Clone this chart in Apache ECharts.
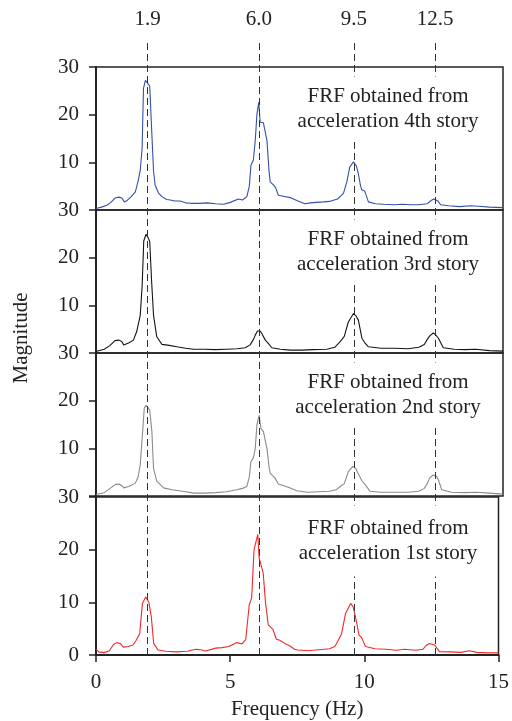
<!DOCTYPE html>
<html lang="en">
<head>
<meta charset="UTF-8">
<title>FRF</title>
<script src="https://cdn.jsdelivr.net/npm/echarts@6/dist/echarts.min.js"></script>
<style>
  html, body { margin: 0; padding: 0; background: #fff; }
  #chart { width: 512px; height: 721px; }
</style>
</head>
<body>
<div id="chart"></div>
<script>
// natural frequencies marked by dashed lines (Hz)
var peakFreqs = [1.9, 6.0, 9.5, 12.5];

// [frequency (Hz), magnitude]
var story4 = [[0,0.3],[0.2,0.6],[0.4,1.0],[0.55,1.6],[0.7,2.5],[0.85,2.7],[0.95,2.5],[1.05,1.7],[1.15,2.0],[1.3,2.8],[1.45,3.8],[1.55,6],[1.63,8.3],[1.7,13],[1.75,25.5],[1.82,27.2],[1.9,26.6],[1.98,26.0],[2.05,17],[2.12,8.3],[2.18,5.2],[2.3,3.6],[2.43,2.8],[2.6,2.2],[2.74,2.1],[2.9,1.9],[3.1,1.9],[3.3,1.5],[3.5,1.4],[3.8,1.4],[4.1,1.5],[4.4,1.3],[4.7,1.2],[4.95,1.6],[5.25,2.3],[5.4,2.1],[5.56,2.8],[5.65,5],[5.71,9.4],[5.8,10.5],[5.87,14.6],[5.93,20.1],[6.0,22.6],[6.05,18.4],[6.17,18.3],[6.3,14.6],[6.38,8],[6.42,5.9],[6.55,5.2],[6.62,4.7],[6.72,3.1],[6.9,2.9],[7.16,2.6],[7.4,2.0],[7.7,1.3],[7.9,1.5],[8.1,1.6],[8.38,1.7],[8.6,1.8],[8.9,2.3],[9.12,3.5],[9.25,6],[9.35,9],[9.49,10.1],[9.6,9.2],[9.67,7.6],[9.75,5],[9.8,4.2],[9.9,4],[10.04,1.7],[10.3,1.3],[10.6,1.2],[11,1.1],[11.3,1.2],[11.6,1.1],[11.9,1.1],[12.2,1.3],[12.35,2.0],[12.45,2.3],[12.6,1.9],[12.7,1.1],[13,0.9],[13.4,0.7],[13.8,0.9],[14.1,0.8],[14.5,0.6],[15,0.5]];
var story3 = [[0,0.3],[0.3,0.8],[0.5,1.5],[0.7,2.6],[0.85,2.7],[0.95,2.4],[1.02,1.7],[1.2,2.1],[1.38,2.7],[1.5,4.5],[1.63,7.9],[1.7,14],[1.76,23.5],[1.84,24.9],[1.92,24.2],[1.98,23.4],[2.05,15],[2.12,7.9],[2.24,3.4],[2.43,1.8],[2.7,1.6],[2.98,1.3],[3.3,1.0],[3.6,0.8],[4.0,0.8],[4.4,0.7],[4.8,0.8],[5.2,0.9],[5.5,1.1],[5.68,1.7],[5.8,2.8],[5.87,3.75],[5.95,4.6],[5.99,5.0],[6.05,4.6],[6.11,4.1],[6.24,2.7],[6.35,2.0],[6.48,1.1],[6.8,0.8],[7.16,0.6],[7.6,0.6],[8.0,0.7],[8.5,0.8],[8.8,1.2],[9.0,2.4],[9.15,3.5],[9.3,6.5],[9.49,8.3],[9.58,7.8],[9.67,6.9],[9.8,3.1],[9.9,2.2],[10.04,1.3],[10.5,1.0],[11,1.0],[11.5,0.9],[11.9,1.2],[12.1,1.8],[12.19,2.7],[12.3,3.6],[12.43,4.2],[12.52,3.8],[12.62,3.1],[12.8,1.1],[13.2,0.8],[13.6,0.7],[14,0.8],[14.5,0.5],[15,0.4]];
var story2 = [[0,0.3],[0.3,0.7],[0.5,1.5],[0.7,2.4],[0.85,2.5],[0.95,2.2],[1.02,1.7],[1.2,2.0],[1.45,2.7],[1.55,4],[1.63,6.5],[1.7,12],[1.78,18.5],[1.85,19.0],[1.92,18.5],[1.98,18.0],[2.06,13.5],[2.12,5.8],[2.24,3.1],[2.49,1.7],[2.8,1.3],[3.2,1.0],[3.6,0.6],[4.0,0.6],[4.4,0.7],[4.8,0.9],[5.19,1.3],[5.4,1.6],[5.56,2.0],[5.65,4],[5.71,7.2],[5.8,8],[5.87,10],[5.93,14.9],[6.01,16.9],[6.08,14.2],[6.17,13.5],[6.3,10],[6.38,6],[6.42,4.8],[6.6,3.75],[6.72,2.5],[6.9,2.2],[7.16,1.7],[7.4,1.1],[7.8,0.8],[8.2,0.9],[8.6,1.0],[8.85,1.3],[9.0,2.0],[9.15,2.6],[9.3,5.1],[9.47,6.2],[9.57,5.8],[9.67,4.6],[9.8,3.2],[9.92,2.4],[10.1,1.0],[10.5,0.8],[11,0.8],[11.5,0.8],[11.9,1.0],[12.1,1.6],[12.19,2.4],[12.3,3.8],[12.43,4.4],[12.55,4.1],[12.62,3.4],[12.74,1.3],[13.1,0.8],[13.6,0.7],[14,0.8],[14.5,0.6],[15,0.4]];
var story1 = [[0,1.1],[0.1,0.6],[0.3,0.45],[0.5,0.8],[0.65,2.0],[0.77,2.35],[0.9,2.2],[1.02,1.5],[1.2,1.6],[1.38,1.9],[1.5,2.8],[1.63,4.1],[1.73,9.8],[1.85,11.0],[1.97,10.0],[2.06,7.3],[2.15,2.2],[2.31,0.95],[2.6,0.7],[3.0,0.6],[3.4,0.7],[3.72,1.1],[3.9,1.0],[4.09,0.76],[4.46,1.3],[4.7,1.4],[4.95,1.6],[5.1,2.0],[5.25,2.35],[5.44,2.1],[5.58,2.9],[5.71,9.5],[5.8,10.8],[5.89,20],[6.03,22.9],[6.08,18.4],[6.15,18.7],[6.23,15.6],[6.32,9.8],[6.42,5.7],[6.6,4.8],[6.72,3.0],[6.85,2.8],[7.03,2.2],[7.2,1.8],[7.4,1.1],[7.52,0.95],[7.9,0.8],[8.3,1.0],[8.7,1.2],[8.9,1.6],[9.0,2.5],[9.15,4],[9.3,7.9],[9.49,9.8],[9.58,9.2],[9.67,7.3],[9.8,3.8],[9.9,3.3],[10.04,1.6],[10.4,1.2],[10.8,1.1],[11.2,0.9],[11.5,1.1],[11.9,0.9],[12.19,1.1],[12.3,1.8],[12.43,2.2],[12.62,1.9],[12.8,0.63],[13.2,0.6],[13.6,0.5],[13.9,0.8],[14.2,0.5],[14.6,0.4],[15,0.4]];

var panelData = [story4, story3, story2, story1];
var panelColors = ['#3550a8', '#141414', '#8a8a8a', '#f02828'];
var panelNames = ['4th', '3rd', '2nd', '1st'];
var yTicks = [0, 10, 20, 30];

var font = '"Liberation Serif", "Times New Roman", serif';
var ink = '#222';

// panel layout (px)
var tops = [67, 210, 353, 497];
var heights = [143, 143, 143, 158];
var left = 96, right = 9;

var grids = [], xAxes = [], yAxes = [], series = [], graphics = [];

for (var i = 0; i < 4; i++) {
  var last = i === 3;
  grids.push({
    left: left, right: right, top: tops[i], height: heights[i],
    show: true, borderColor: ink, borderWidth: 1.5
  });
  xAxes.push({
    gridIndex: i, type: 'value', min: 0, max: 15, interval: 5,
    show: last,
    axisLine: { lineStyle: { color: ink, width: 2 } },
    axisTick: { inside: false, length: 7, lineStyle: { color: ink, width: 1.5 } },
    axisLabel: { color: ink, fontFamily: font, fontSize: 21, margin: 17 },
    splitLine: { show: false },
    name: last ? 'Frequency (Hz)' : '',
    nameLocation: 'middle', nameGap: 44,
    nameTextStyle: { color: ink, fontFamily: font, fontSize: 21 }
  });
  yAxes.push({
    gridIndex: i, type: 'value', min: yTicks[0], max: yTicks[yTicks.length - 1], interval: 10,
    axisLine: { show: true, lineStyle: { color: ink, width: 2 } },
    axisTick: { inside: false, length: 7, lineStyle: { color: ink, width: 1.5 } },
    axisLabel: {
      color: ink, fontFamily: font, fontSize: 21, margin: 17,
      formatter: (function (isLast) {
        return function (v) { return (v === 0 && !isLast) ? '' : String(v); };
      })(last)
    },
    splitLine: { show: false }
  });
  series.push({
    type: 'line', xAxisIndex: i, yAxisIndex: i,
    data: panelData[i], showSymbol: false, symbol: 'none',
    lineStyle: { color: panelColors[i], width: 1.1 }, z: 3
  });
  graphics.push({
    type: 'text', z: 100,
    x: 388, y: tops[i] + (last ? 44 : 42),
    style: {
      text: 'FRF obtained from\nacceleration ' + panelNames[i] + ' story',
      font: '21px ' + font, fill: ink,
      align: 'center', verticalAlign: 'middle', lineHeight: 25,
      backgroundColor: '#fff', padding: last ? [9, 5, 12, 5] : [7, 5, 8, 5]
    }
  });
}

// overlay grid for the dashed frequency markers
grids.push({ left: left, right: right, top: 40, bottom: 721 - 655 });
xAxes.push({ gridIndex: 4, type: 'value', min: 0, max: 15, show: false });
yAxes.push({ gridIndex: 4, type: 'value', min: 0, max: 1, show: false });
series.push({
  type: 'line', xAxisIndex: 4, yAxisIndex: 4, data: [[0, 0]],
  showSymbol: false, symbol: 'none', lineStyle: { opacity: 0 }, z: 4,
  markLine: {
    silent: true, symbol: ['none', 'none'], animation: false,
    lineStyle: { type: [7, 4], color: '#333', width: 1 },
    label: {
      show: true, position: 'end', distance: 10,
      color: ink, fontFamily: font, fontSize: 21,
      formatter: function (p) { return p.value.toFixed(1); }
    },
    data: peakFreqs.map(function (f) { return { xAxis: f }; })
  }
});

graphics.push({
  type: 'text', z: 100, x: 21, y: 338, rotation: Math.PI / 2,
  style: {
    text: 'Magnitude', font: '21px ' + font, fill: ink,
    align: 'center', verticalAlign: 'middle'
  }
});

var chart = echarts.init(document.getElementById('chart'));
chart.setOption({
  animation: false,
  grid: grids,
  xAxis: xAxes,
  yAxis: yAxes,
  series: series,
  graphic: graphics
});
</script>
</body>
</html>
